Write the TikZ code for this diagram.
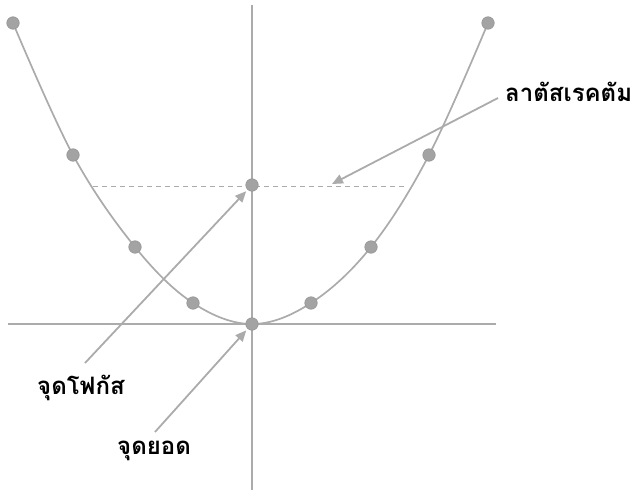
\documentclass[tikz,border=0pt]{standalone}
\usepackage{fontspec}
\newfontfamily\thaifont[Script=Thai]{Loma}
\usetikzlibrary{arrows.meta}
\definecolor{lineg}{HTML}{ABABAB}
\definecolor{dotg}{HTML}{A3A3A3}
\definecolor{dotd}{HTML}{959595}
\begin{document}
\begin{tikzpicture}[x=1pt,y=-1pt,
  ln/.style={draw=lineg, line width=1.7pt},
  dot/.style={circle, fill=dotg, draw=dotd, line width=0.6pt, minimum size=12.5pt, inner sep=0pt},
  lbl/.style={font=\thaifont\bfseries\fontsize{24}{28}\selectfont, text=black, inner sep=0pt, anchor=base west},
  arr/.style={draw=lineg, line width=1.8pt, -{Triangle[length=11pt,width=9.5pt]}}]
\useasboundingbox (0,0) rectangle (634,495);
% axes
\draw[ln] (252,5) -- (252,490);
\draw[ln] (8,324) -- (496,324);
% parabola
\draw[ln] plot[smooth, tension=0.6] coordinates {(13,23) (73,155) (135,247) (193,303) (252,324) (311,303) (371,247) (429,155) (488,23)};
% latus rectum
\draw[draw=lineg, line width=1pt, dash pattern=on 5pt off 4pt] (93,186) -- (405,186);
% points
\node[dot] (p1) at (13,23) {};
\node[dot] (p2) at (73,155) {};
\node[dot] (p3) at (135,247) {};
\node[dot] (p4) at (193,303) {};
\node[dot] (v) at (252,324) {};
\node[dot] (p6) at (311,303) {};
\node[dot] (p7) at (371,247) {};
\node[dot] (p8) at (429,155) {};
\node[dot] (p9) at (488,23) {};
\node[dot] (f) at (252,185) {};
% labels
\node[lbl] (llat) at (505,101) {ลาตัสเรคตัม};
\node[lbl] (lfoc) at (37,394) {จุดโฟกัส};
\node[lbl] (lver) at (117,454) {จุดยอด};
% arrow anchors
\coordinate (slat) at (498,98);
\coordinate (tlat) at (332,184);
\coordinate (sfoc) at (85,363);
\coordinate (sver) at (155,432);
\draw[arr] (slat) -- (tlat);
\draw[arr, shorten >=2pt] (sfoc) -- (f);
\draw[arr, shorten >=2pt] (sver) -- (v);
\end{tikzpicture}
\end{document}
